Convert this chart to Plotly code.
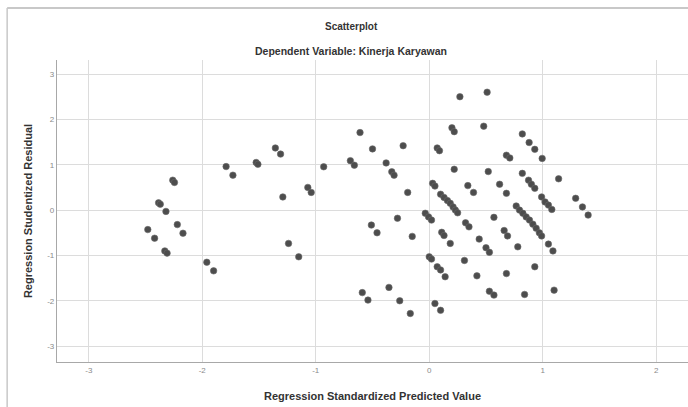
import plotly.graph_objects as go

# Regression Standardized Predicted Value
pred = [
    -1.79, -1.73, -2.26, -2.245, -2.385, -2.37, -2.32, -2.22, -2.17, -2.48, -2.42, -2.33, -2.31, -1.96, -1.90,
    -1.525, -1.51, -1.356, -1.31, -1.29, -1.07, -1.04, -1.24, -1.15, -0.93, -0.61, -0.695, -0.66, -0.50,
    -0.23, -0.38, -0.33, -0.31, -0.19, -0.28, -0.51, -0.46, -0.15, -0.59, -0.54, -0.355, -0.26, -0.167,
    0.27, 0.51, 0.20, 0.22, 0.48, 0.07, 0.09, 0.68, 0.22, 0.52, 0.03, 0.05,
    0.10, 0.13, 0.16, 0.185, 0.21, 0.23, 0.25,
    0.34, 0.39, 0.62, 0.68, -0.035, -0.006, 0.02, 0.32, 0.35, 0.57, 0.11, 0.13, 0.185, 0.44,
    0.66, 0.69, 0.50, 0.53, 0.0, 0.02, 0.07, 0.10, 0.14, 0.31, 0.42, 0.68, 0.53, 0.57, 0.05, 0.10,
    0.82, 0.88, 0.93, 0.995, 0.71, 0.82, 0.875, 0.90, 0.93, 0.99, 1.02, 1.05, 1.08, 1.14, 1.29, 1.35, 1.40,
    0.766, 0.795, 0.825, 0.854, 0.883, 0.913, 0.942, 0.97, 0.99, 1.05, 1.09,
    0.78, 0.93, 0.84, 1.10,
]
# Regression Studentized Residual
resid = [
    0.96, 0.77, 0.66, 0.61, 0.16, 0.13, -0.03, -0.32, -0.51, -0.43, -0.62, -0.90, -0.95, -1.15, -1.34,
    1.05, 1.01, 1.37, 1.235, 0.29, 0.50, 0.39, -0.735, -1.03, 0.955, 1.71, 1.09, 0.99, 1.35,
    1.42, 1.04, 0.845, 0.77, 0.39, -0.18, -0.33, -0.50, -0.58, -1.82, -1.985, -1.705, -2.0, -2.28,
    2.50, 2.60, 1.815, 1.73, 1.85, 1.37, 1.31, 1.21, 0.90, 0.85, 0.59, 0.53,
    0.35, 0.28, 0.21, 0.15, 0.07, 0.0, -0.06,
    0.54, 0.39, 0.57, 0.37, -0.07, -0.15, -0.22, -0.28, -0.37, -0.16, -0.49, -0.56, -0.735, -0.64,
    -0.45, -0.57, -0.83, -0.93, -1.03, -1.08, -1.25, -1.32, -1.47, -1.11, -1.45, -1.40, -1.79, -1.875, -2.06, -2.21,
    1.68, 1.49, 1.34, 1.14, 1.15, 0.81, 0.66, 0.57, 0.48, 0.29, 0.18, 0.11, 0.015, 0.69, 0.26, 0.07, -0.11,
    0.09, 0.0, -0.07, -0.15, -0.22, -0.31, -0.40, -0.50, -0.57, -0.75, -0.90,
    -0.81, -1.25, -1.86, -1.765,
]

x_ticks = [-3, -2, -1, 0, 1, 2]
y_ticks = [-3, -2, -1, 0, 1, 2, 3]

title_text = "Scatterplot"
subtitle_text = "Dependent Variable: Kinerja Karyawan"
x_title = "Regression Standardized Predicted Value"
y_title = "Regression Studentized Residual"

FONT = "Liberation Sans, Arial, sans-serif"

fig = go.Figure()
fig.add_trace(go.Scatter(
    x=pred, y=resid, mode="markers",
    marker=dict(size=6.5, color="#4d4d4d", line=dict(width=0.6, color="#6a6a6a")),
    hoverinfo="x+y", showlegend=False,
))

grid = "#dcdcdc"
fig.update_xaxes(
    range=[-3.28, 2.28], tickvals=x_ticks, ticktext=[str(t) for t in x_ticks],
    showgrid=True, gridcolor=grid, gridwidth=1, zeroline=False,
    showline=True, linecolor="#a8a8a8", linewidth=1.2, ticks="",
    tickfont=dict(family=FONT, size=8, color="#8a8a8a"),
    title=dict(text="<b>" + x_title + "</b>", font=dict(family=FONT, size=11, color="#333333"), standoff=18),
)
fig.update_yaxes(
    range=[-3.35, 3.31], tickvals=y_ticks, ticktext=[str(t) for t in y_ticks],
    showgrid=True, gridcolor=grid, gridwidth=1, zeroline=False,
    showline=True, linecolor="#a8a8a8", linewidth=1.2, ticks="",
    tickfont=dict(family=FONT, size=8, color="#8a8a8a"),
    title=dict(text="<b>" + y_title + "</b>", font=dict(family=FONT, size=11, color="#333333"), standoff=12),
)

# title and subtitle
fig.add_annotation(text="<b>" + title_text + "</b>", xref="paper", yref="paper",
                   x=0.466, y=1.11, showarrow=False, xanchor="center", yanchor="middle",
                   font=dict(family=FONT, size=10, color="#333333"))
fig.add_annotation(text="<b>" + subtitle_text + "</b>", xref="paper", yref="paper",
                   x=0.466, y=1.03, showarrow=False, xanchor="center", yanchor="middle",
                   font=dict(family=FONT, size=10.5, color="#333333"))

# outer frame lines (top and left)
fig.add_shape(type="line", xref="paper", yref="paper", x0=-0.079, x1=1.0, y0=1.172, y1=1.172,
              line=dict(color="#c8c8c8", width=2))
fig.add_shape(type="line", xref="paper", yref="paper", x0=-0.079, x1=-0.079, y0=-0.15, y1=1.172,
              line=dict(color="#c8c8c8", width=1.5))

fig.update_layout(
    width=688, height=407,
    margin=dict(l=57, r=0, t=60, b=45),
    paper_bgcolor="white", plot_bgcolor="white",
    font=dict(family=FONT),
)

fig.write_html("out.html",
               config={"displayModeBar": False},
               post_script="document.body.style.margin='0px';document.body.style.overflow='hidden';")
